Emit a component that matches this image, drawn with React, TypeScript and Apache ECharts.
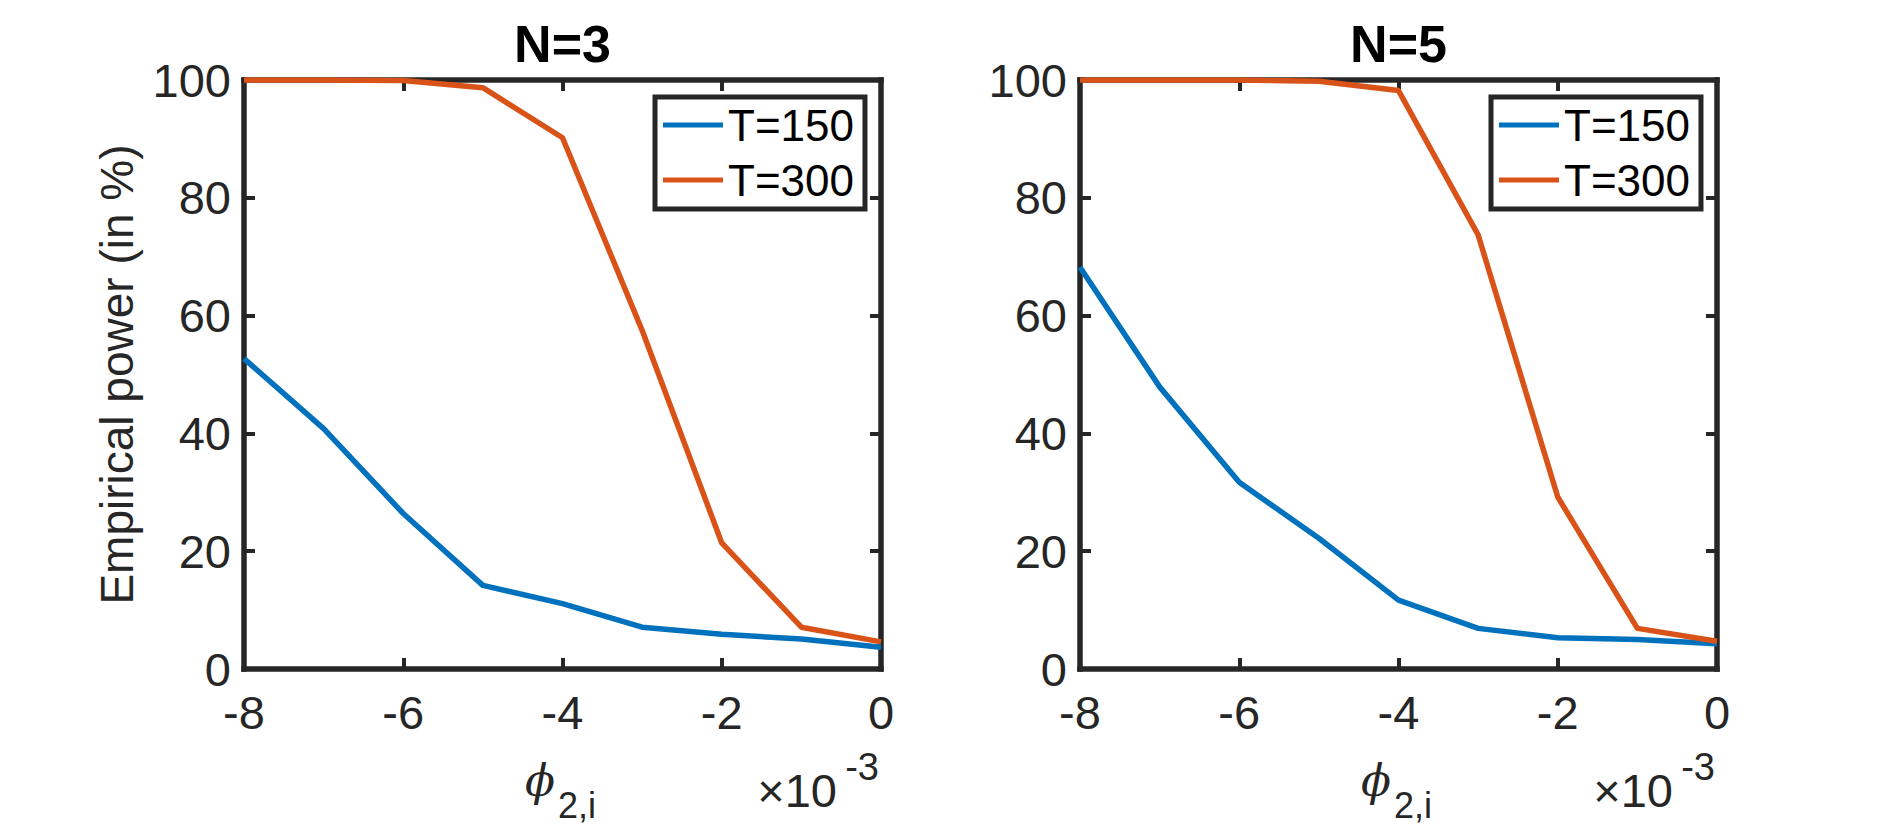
import React, { useEffect, useRef } from "react";
import * as echarts from "echarts";

// ---- data ----
const phiValues = [-8, -7, -6, -5, -4, -3, -2, -1, 0];
const panelTitles = ["N=3", "N=5"];
const seriesNames = ["T=150", "T=300"];
const n3T150 = [52.7, 40.8, 26.4, 14.2, 11.1, 7.1, 5.9, 5.1, 3.7];
const n3T300 = [100, 100, 99.9, 98.7, 90.2, 57.5, 21.4, 7.1, 4.6];
const n5T150 = [68.2, 47.9, 31.7, 22.2, 11.7, 6.9, 5.3, 5.0, 4.3];
const n5T300 = [100, 100, 100, 99.8, 98.2, 73.7, 29.2, 6.9, 4.7];
const yTicks = { min: 0, max: 100, interval: 20 };
const xTicks = { min: -8, max: 0, interval: 2 };
const yAxisTitle = "Empirical power (in %)";
const xAxisSymbol = "ϕ";
const xAxisSub = "2,i";
const xExponentBase = "×10";
const xExponentPower = "-3";

const panels = [
  { title: panelTitles[0], values: [n3T150, n3T300] },
  { title: panelTitles[1], values: [n5T150, n5T300] },
];
const colors = ["#0072BD", "#D95319"];

// ---- layout ----
const AXIS = "#262626";
const FONT = '"Liberation Sans", Arial, Helvetica, sans-serif';
const GRID_LEFTS = [244, 1080];
const GRID_TOP = 80;
const GRID_W = 637;
const GRID_H = 589;

function txt(x: number, y: number, text: string, size: number, align: string, extra: any = {}) {
  return {
    type: "text",
    x,
    y,
    z: 10,
    style: {
      text,
      fill: AXIS,
      fontSize: size,
      fontFamily: FONT,
      textAlign: align,
      textVerticalAlign: "middle",
      align,
      verticalAlign: "middle",
      ...extra,
    },
  };
}

function buildOption() {
  const grid: any[] = [];
  const xAxis: any[] = [];
  const yAxis: any[] = [];
  const series: any[] = [];
  const legend: any[] = [];
  const title: any[] = [];
  const graphic: any[] = [];

  panels.forEach((p, i) => {
    const left = GRID_LEFTS[i];
    const right = left + GRID_W;
    const cx = left + GRID_W / 2;
    grid.push({ left, top: GRID_TOP, width: GRID_W, height: GRID_H });

    const lineStyle = { color: AXIS, width: 5.5, cap: "square" };
    const tick = { show: true, inside: true, length: 11, lineStyle: { color: AXIS, width: 4 } };
    xAxis.push({
      type: "value", gridIndex: i, position: "bottom", ...xTicks,
      axisLine: { show: true, onZero: false, lineStyle },
      axisTick: tick,
      axisLabel: { fontSize: 47, color: AXIS, fontFamily: FONT, margin: 20 },
      splitLine: { show: false },
    });
    xAxis.push({
      type: "value", gridIndex: i, position: "top", ...xTicks,
      axisLine: { show: true, onZero: false, lineStyle },
      axisTick: tick,
      axisLabel: { show: false },
      splitLine: { show: false },
    });
    yAxis.push({
      type: "value", gridIndex: i, position: "left", ...yTicks,
      axisLine: { show: true, onZero: false, lineStyle },
      axisTick: tick,
      axisLabel: { fontSize: 47, color: AXIS, fontFamily: FONT, margin: 13 },
      splitLine: { show: false },
      name: i === 0 ? yAxisTitle : "",
      nameLocation: "middle",
      nameGap: 104,
      nameTextStyle: { fontSize: 46, color: AXIS, fontFamily: FONT },
    });
    yAxis.push({
      type: "value", gridIndex: i, position: "right", ...yTicks,
      axisLine: { show: true, onZero: false, lineStyle },
      axisTick: tick,
      axisLabel: { show: false },
      splitLine: { show: false },
    });

    p.values.forEach((vals, k) => {
      series.push({
        type: "line",
        name: seriesNames[k],
        xAxisIndex: i * 2,
        yAxisIndex: i * 2,
        data: phiValues.map((x, j) => [x, vals[j]]),
        symbol: "none",
        lineStyle: { width: 5.5, color: colors[k], join: "round" },
        itemStyle: { color: colors[k] },
        z: 3,
      });
    });

    legend.push({
      data: seriesNames,
      orient: "vertical",
      left: right - 226,
      top: 97,
      padding: [6, 11, 7, 8],
      itemGap: 11,
      itemWidth: 60,
      itemHeight: 5,
      icon: "rect",
      borderColor: AXIS,
      borderWidth: 5,
      borderRadius: 0,
      backgroundColor: "#ffffff",
      selectedMode: false,
      textStyle: { fontSize: 44, color: "#000", fontFamily: FONT },
    });

    title.push({
      text: p.title,
      left: cx,
      top: 18,
      textAlign: "center",
      padding: 0,
      textStyle: { fontSize: 52, fontWeight: "bold", color: "#000", fontFamily: FONT },
    });

    graphic.push(
      txt(cx - 22.5, 780, xAxisSymbol, 44, "center", {
        fontStyle: "italic",
        fontFamily: '"DejaVu Serif", "Liberation Serif", serif',
      })
    );
    graphic.push(txt(cx + 14.5, 805, xAxisSub, 36, "center"));
    graphic.push(txt(right - 44, 790, xExponentBase, 47, "right"));
    graphic.push(txt(right - 2, 767, xExponentPower, 38, "right"));
  });

  return {
    animation: false,
    backgroundColor: "#ffffff",
    textStyle: { fontFamily: FONT },
    grid, xAxis, yAxis, series, legend, title, graphic,
  };
}

export default function App() {
  const ref = useRef<HTMLDivElement>(null);
  useEffect(() => {
    if (!ref.current) return;
    const chart = echarts.init(ref.current, undefined, { renderer: "svg" });
    chart.setOption(buildOption() as any);
    return () => chart.dispose();
  }, []);
  return (
    <div
      ref={ref}
      style={{ position: "fixed", left: 0, top: 0, width: 1896, height: 826, background: "#fff" }}
    />
  );
}
